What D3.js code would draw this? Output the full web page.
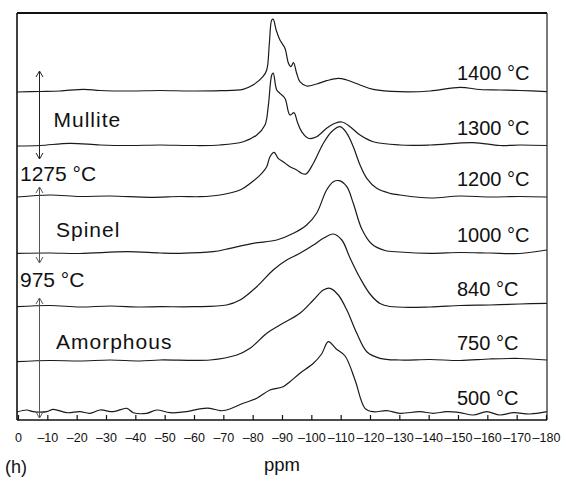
<!DOCTYPE html>
<html>
<head>
<meta charset="utf-8">
<script src="https://cdn.jsdelivr.net/npm/d3@7/dist/d3.min.js"></script>
<style>
  html, body { margin: 0; padding: 0; background: #fff; }
  svg { display: block; }
  text { font-family: "Liberation Sans", Arial, Helvetica, sans-serif; fill: #111; }
</style>
</head>
<body>
<svg id="chart" width="566" height="482"></svg>
<script>
// ---- Data ----
// Each spectrum: [chemical shift in ppm, intensity above its own baseline]
const spec1400 = [[0.3,-1],[-7.5,-0.5],[-14.3,0],[-22.5,1.7],[-28,0.5],[-38.2,0],[-48.4,0.5],[-58.6,0],[-68.9,0.3],[-76.7,1.7],[-80.1,6],[-83.5,14.3],[-84.8,21],[-85.7,48],[-86.5,71],[-87.0,71.7],[-88.0,61],[-89.3,51],[-91.0,42.7],[-92.2,27.7],[-93.0,24.3],[-93.9,28.3],[-95.0,17.7],[-96.1,9.3],[-98.4,5],[-101.8,7],[-105.2,10.3],[-109.2,12.7],[-112.1,11],[-116.6,6],[-121.1,1.7],[-130.2,-0.7],[-140.5,0],[-150.7,3.7],[-157.5,1.5],[-164.3,1],[-171.2,0.5],[-180.3,-0.7]];
const spec1300 = [[0.3,-0.5],[-7.5,0],[-17.7,2.2],[-28,0.5],[-38.2,0],[-48.4,0.5],[-58.6,0],[-68.9,0.5],[-76.8,3.8],[-81.4,10.5],[-84.2,20.5],[-85.3,38.8],[-86.5,70.5],[-87.0,72.5],[-88.2,55.5],[-89.3,52.2],[-91.0,47.2],[-92.7,30.5],[-94.1,32.8],[-95.2,23.8],[-96.7,13.8],[-99.0,7.2],[-101.8,8.8],[-105.2,17.2],[-108.1,22.2],[-110.4,23.5],[-113.2,18.8],[-116.6,10.5],[-121.1,3.8],[-130.2,0.5],[-140.5,0.5],[-155.1,2.8],[-164.3,0],[-171.2,0.5],[-180.3,0]];
const spec1200 = [[0.3,-0.5],[-10.9,1.5],[-21.1,0],[-31.4,0.5],[-45,-0.8],[-55.2,0],[-62,-0.2],[-68.9,1.5],[-75.7,6.5],[-80.2,15.5],[-83.1,23.2],[-84.8,29.8],[-85.9,39.8],[-87.3,44.2],[-88.7,38.2],[-90.4,34.8],[-92.7,29.8],[-95.0,26.5],[-96.7,23.2],[-98.2,22.5],[-100.7,33.2],[-104.1,53.2],[-106.9,64.8],[-109.8,69.8],[-112.1,63.2],[-114.3,49.8],[-116.6,31.5],[-118.9,18.2],[-122.3,8.2],[-126.8,3.2],[-130.2,1.5],[-140.5,-1.5],[-150.7,0.5],[-160.9,-0.5],[-171.1,0],[-180.3,-0.5]];
const spec1000 = [[0.3,-0.3],[-10.9,0],[-21.1,-0.5],[-37.2,1.3],[-48.4,0],[-55.2,-0.3],[-66.5,1.3],[-72.3,4.7],[-80.2,9.7],[-88.2,13],[-93.9,19.7],[-98.4,28],[-101.8,39.7],[-105.2,63],[-107.5,71.3],[-109.5,72.3],[-112.1,66.3],[-114.3,49.7],[-117.2,24],[-120.6,9],[-125.1,2.5],[-130.2,1],[-140.5,-0.3],[-150.7,0.5],[-160.9,0],[-171.1,-0.5],[-180.3,3]];
const spec840 = [[0.3,-0.2],[-10.9,1],[-21.1,-0.5],[-31.4,0.5],[-41.6,-0.5],[-48.4,-0.2],[-59.8,-0.2],[-71.1,1.5],[-75.7,6.5],[-81.4,19.8],[-87.0,36.5],[-91.6,46.5],[-96.1,53.2],[-100.7,61.5],[-104.1,68.2],[-107.5,72.5],[-110.4,66.5],[-113.2,48.5],[-116.6,28.5],[-120.0,12.5],[-123.4,3],[-126.8,0],[-140.5,-0.5],[-150.7,1],[-160.9,1.5],[-171.1,2.5],[-180.3,3.2]];
const spec750 = [[0.3,-1.2],[-10.9,0],[-21.1,-0.5],[-31.4,0.5],[-41.6,-0.5],[-48.4,0.5],[-65.5,0.5],[-74.6,5.5],[-79.1,12.2],[-84.8,27.2],[-89.3,35.5],[-96.1,47.2],[-100.7,60.5],[-104.1,70.5],[-106.4,72.2],[-109.2,65.5],[-112.1,50.5],[-115.5,27.2],[-118.9,8.8],[-123.4,2.2],[-130.2,0.5],[-140.5,1],[-150.7,0],[-160.9,1.5],[-171.1,2],[-180.3,0.5]];
const spec500 = [[0.3,0],[-3.0,2],[-5.2,0.3],[-9.8,0.3],[-12.0,2.7],[-16.6,-0.7],[-21.1,0.3],[-24.5,-1.3],[-28.0,2],[-32.5,0.3],[-37.1,3.7],[-39.3,-0.7],[-43.9,-1.3],[-47.3,2],[-51.8,-0.7],[-57.5,0.3],[-62.0,3.2],[-65.5,3.7],[-68.9,1.3],[-71.1,2],[-76.8,8.7],[-81.4,13.7],[-85.9,22],[-90.4,25.3],[-92.7,30.3],[-96.1,38.7],[-100.7,48.7],[-103.5,58],[-105.8,70.3],[-108.5,63],[-111.5,56],[-114.9,32],[-118.3,3.7],[-121.1,0.3],[-125.7,1.3],[-130.2,-1.3],[-137.0,0.3],[-141.6,-1.3],[-146.1,0.3],[-150.7,-0.7],[-155.2,-3],[-159.8,0.3],[-164.3,-3],[-168.9,-0.7],[-174.5,-2],[-180.3,0.3]];

const spectra   = [spec500, spec750, spec840, spec1000, spec1200, spec1300, spec1400];
const tempLabels = ["500 °C", "750 °C", "840 °C", "1000 °C", "1200 °C", "1300 °C", "1400 °C"];
const baselineOffsets = [8, 59.5, 113.5, 167, 223.5, 274.5, 329];

const xTicks = d3.range(0, -181, -10);
const xTickLabels = xTicks.map(v => v === 0 ? "0" : "\u2013" + Math.abs(v));

const phaseNames = ["Mullite", "Spinel", "Amorphous"];
const phaseTransitions = ["1275 °C", "975 °C"];

// ---- Layout ----
const svg = d3.select("#chart");
const frameL = 17, frameR = 547, frameT = 13, frameB = 420;

const x = d3.scaleLinear().domain([0, -180]).range([18, 546]);
const y = d3.scaleLinear().domain([0, 407]).range([frameB, frameT]);

// Spectra
const line = d3.line()
  .x(d => x(d[0]))
  .y(d => d.yy)
  .curve(d3.curveCatmullRom.alpha(0.5));

spectra.forEach((s, i) => {
  const pts = s.map(d => { const p = [d[0], d[1]]; p.yy = y(baselineOffsets[i] + d[1]); return p; });
  svg.append("path")
    .attr("d", line(pts))
    .attr("fill", "none")
    .attr("stroke", "#1a1a1a")
    .attr("stroke-width", 1.2)
    .attr("stroke-linejoin", "round");
});

// Frame
svg.append("line").attr("x1", frameL).attr("x2", frameR).attr("y1", frameT).attr("y2", frameT)
  .attr("stroke", "#111").attr("stroke-width", 2);
svg.append("line").attr("x1", frameL).attr("x2", frameL).attr("y1", frameT).attr("y2", frameB)
  .attr("stroke", "#111").attr("stroke-width", 1.6);
svg.append("line").attr("x1", frameR).attr("x2", frameR).attr("y1", frameT).attr("y2", frameB)
  .attr("stroke", "#222").attr("stroke-width", 1.2);

// X axis with inward ticks
const xAxis = d3.axisBottom(x).tickValues(xTicks).tickSize(-5).tickSizeOuter(0)
  .tickFormat((d, i) => xTickLabels[i]);
const gx = svg.append("g").attr("transform", `translate(0,${frameB})`).call(xAxis);
gx.select(".domain").attr("d", `M${frameL},0H${frameR}`).attr("stroke", "#111").attr("stroke-width", 1.6);
gx.selectAll(".tick line").attr("stroke", "#111").attr("stroke-width", 1.2);
gx.selectAll(".tick text")
  .attr("y", 18).attr("dy", "0.32em")
  .style("font-family", '"Liberation Sans", Arial, sans-serif')
  .style("font-size", "12.5px").attr("fill", "#111");

// Axis title and panel letter
svg.append("text").attr("x", 282).attr("y", 471).attr("text-anchor", "middle")
  .style("font-size", "18.5px").text("ppm");
svg.append("text").attr("x", 5).attr("y", 473)
  .style("font-size", "18px").text("(h)");

// Temperature labels
tempLabels.forEach((t, i) => {
  svg.append("text")
    .attr("x", 457)
    .attr("y", y(baselineOffsets[i]) - (i === 0 ? 7 : 11))
    .style("font-size", "20px")
    .text(t);
});

// Phase labels
const phaseLabelY = [126.5, 237, 348.5];
phaseNames.forEach((p, i) => {
  svg.append("text").attr("x", i === 0 ? 53.5 : 56).attr("y", phaseLabelY[i])
    .style("font-size", "21px").style("letter-spacing", "1px").text(p);
});
const transLabelY = [181, 286.5];
phaseTransitions.forEach((t, i) => {
  svg.append("text").attr("x", 20).attr("y", transLabelY[i])
    .style("font-size", "21px").text(t);
});

// Double-headed arrows for phase ranges
const arrows = [[71, 159, "#222"], [187, 263, "#555"], [298, 418, "#555"]];
const ax = 39.5;
arrows.forEach(([y1, y2, c]) => {
  const g = svg.append("g").attr("stroke", c).attr("fill", "none").attr("stroke-width", 1);
  g.append("line").attr("x1", ax).attr("x2", ax).attr("y1", y1).attr("y2", y2);
  g.append("path").attr("d", `M${ax-3.5},${y1+6}L${ax},${y1}L${ax+3.5},${y1+6}`);
  g.append("path").attr("d", `M${ax-3.5},${y2-6}L${ax},${y2}L${ax+3.5},${y2-6}`);
});
</script>
</body>
</html>
